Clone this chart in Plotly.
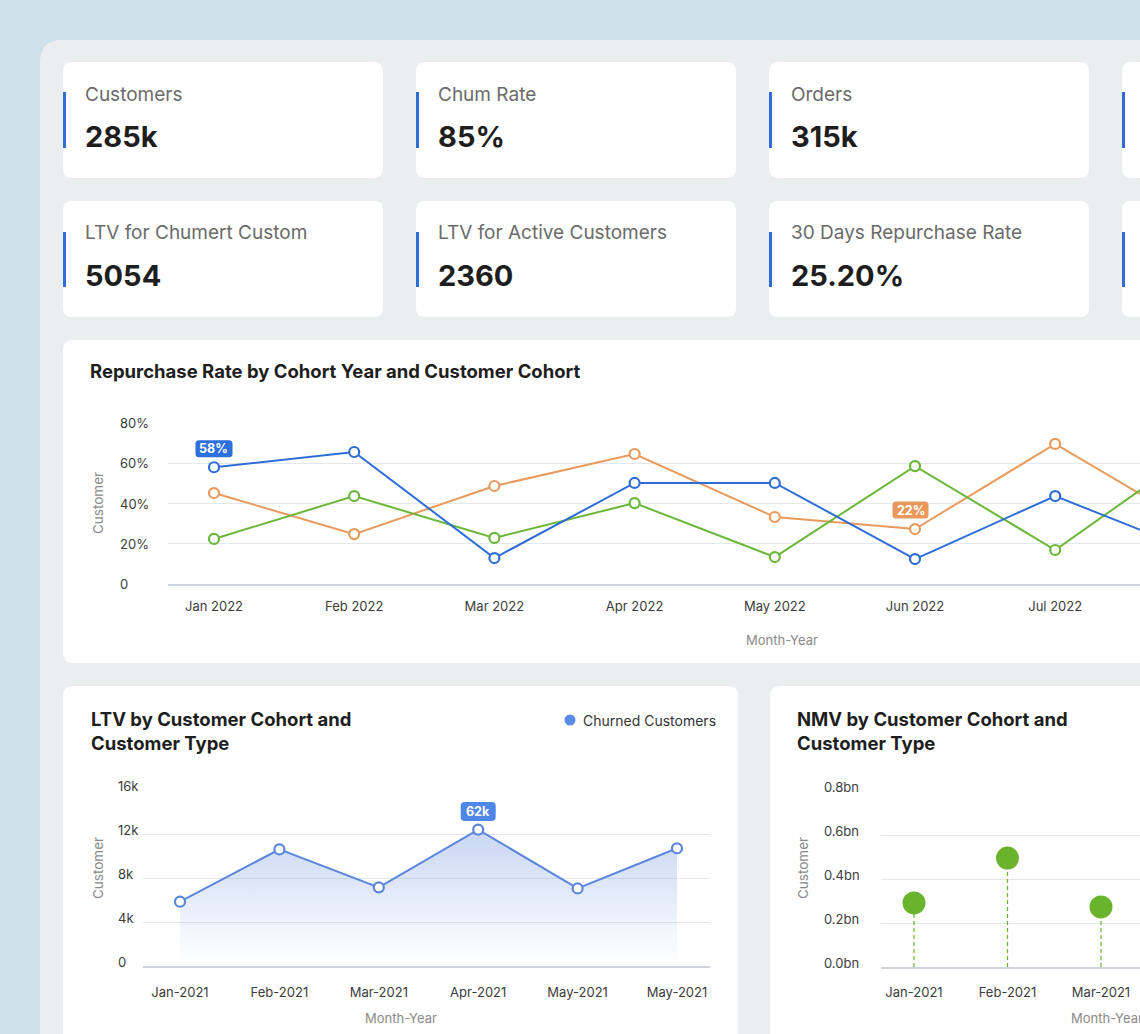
import plotly.graph_objects as go

W, H = 1140, 1034

# ---------------- data ----------------
kpi_labels_row1 = ["Customers", "Chum Rate", "Orders"]
kpi_values_row1 = ["285k", "85%", "315k"]
kpi_labels_row2 = ["LTV for Chumert Custom", "LTV for Active Customers", "30 Days Repurchase Rate"]
kpi_values_row2 = ["5054", "2360", "25.20%"]

rep_months = ["Jan 2022", "Feb 2022", "Mar 2022", "Apr 2022", "May 2022", "Jun 2022", "Jul 2022", "Aug 2022"]
rep_blue = [58, 65.6, 12.9, 50.2, 50.2, 12.4, 43.7, 16]
rep_orange = [45.2, 24.8, 48.7, 64.6, 33.3, 27.3, 69.6, 28.5]
rep_green = [22.4, 43.7, 22.9, 40.2, 13.4, 58.6, 16.9, 66]
rep_ticks = [0, 20, 40, 60, 80]
rep_ticktext = ["0", "20%", "40%", "60%", "80%"]

ltv_months = ["Jan-2021", "Feb-2021", "Mar-2021", "Apr-2021", "May-2021", "May-2021"]
ltv_values = [5850, 10600, 7150, 12400, 7050, 10700]
ltv_ticks = [0, 4000, 8000, 12000, 16000]
ltv_ticktext = ["0", "4k", "8k", "12k", "16k"]

nmv_months = ["Jan-2021", "Feb-2021", "Mar-2021"]
nmv_values = [0.291, 0.495, 0.273]
nmv_ticks = [0, 0.2, 0.4, 0.6, 0.8]
nmv_ticktext = ["0.0bn", "0.2bn", "0.4bn", "0.6bn", "0.8bn"]

# ---------------- helpers ----------------
def X(x):
    return x / W

def Y(y):
    return 1 - y / H

def rrect(x0, y0, x1, y1, r, color):
    p = (f"M {X(x0+r)},{Y(y0)} L {X(x1-r)},{Y(y0)} Q {X(x1)},{Y(y0)} {X(x1)},{Y(y0+r)} "
         f"L {X(x1)},{Y(y1-r)} Q {X(x1)},{Y(y1)} {X(x1-r)},{Y(y1)} "
         f"L {X(x0+r)},{Y(y1)} Q {X(x0)},{Y(y1)} {X(x0)},{Y(y1-r)} "
         f"L {X(x0)},{Y(y0+r)} Q {X(x0)},{Y(y0)} {X(x0+r)},{Y(y0)} Z")
    return dict(type="path", xref="paper", yref="paper", path=p,
                fillcolor=color, line=dict(width=0), layer="below")

def badge_shape(xr, yr, xa, ya, dx, dy, w, h, r, color):
    # pixel-sized rounded rectangle anchored at a data point
    x0, x1 = dx - w / 2, dx + w / 2
    y0, y1 = dy - h / 2, dy + h / 2
    p = (f"M {x0+r},{y0} L {x1-r},{y0} Q {x1},{y0} {x1},{y0+r} "
         f"L {x1},{y1-r} Q {x1},{y1} {x1-r},{y1} L {x0+r},{y1} Q {x0},{y1} {x0},{y1-r} "
         f"L {x0},{y0+r} Q {x0},{y0} {x0+r},{y0} Z")
    return dict(type="path", xref=xr, yref=yr, xsizemode="pixel", ysizemode="pixel",
                xanchor=xa, yanchor=ya, path=p, fillcolor=color, line=dict(width=0), layer="above")

FONT = "Inter, Open Sans, sans-serif"
BLUE = "#2f6dd6"
ORANGE = "#e99a5c"
GREEN = "#6cb63a"
LTV_BLUE = "#5b86db"
NMV_GREEN = "#6ab42d"
GRID = "#e4e7eb"
BASE = "#cfd4da"

shapes = []
annotations = []

# background panel and cards
shapes.append(rrect(40, 40, 1400, 1200, 22, "#eaeeee"))
card_x = [(63, 383), (416, 736), (769, 1089), (1122, 1400)]
for (x0, x1) in card_x:
    shapes.append(rrect(x0, 62, x1, 178, 9, "white"))
    shapes.append(rrect(x0, 201, x1, 317, 9, "white"))
    for (b0, b1) in [(92, 148), (232, 287)]:
        shapes.append(dict(type="rect", xref="paper", yref="paper", x0=X(x0), x1=X(x0 + 3),
                           y0=Y(b1), y1=Y(b0), fillcolor=BLUE, line=dict(width=0), layer="below"))
shapes.append(rrect(63, 340, 1400, 663, 10, "white"))
shapes.append(rrect(63, 686, 738, 1200, 10, "white"))
shapes.append(rrect(770, 686, 1400, 1200, 10, "white"))

def text(t, x, y, size, color, anchor="left", angle=0, bold=False):
    if bold:
        t = f"<b>{t}</b>"
    annotations.append(dict(text=t, x=X(x), y=Y(y), xref="paper", yref="paper", xanchor=anchor,
                            yanchor="middle", showarrow=False, textangle=angle,
                            font=dict(size=size, color=color, family=FONT)))

# KPI text
for i, (lab, val) in enumerate(zip(kpi_labels_row1, kpi_values_row1)):
    x0 = card_x[i][0] + 20
    text(lab, x0, 94, 19, "#6b6b6b")
    text(val, x0, 136, 29, "#1e1e1e", bold=True)
for i, (lab, val) in enumerate(zip(kpi_labels_row2, kpi_values_row2)):
    x0 = card_x[i][0] + 20
    text(lab, x0, 233, 19, "#6b6b6b")
    text(val, x0, 275, 29, "#1e1e1e", bold=True)

# titles
text("Repurchase Rate by Cohort Year and Customer Cohort", 88, 371, 18.5, "#1e1e1e", bold=True)
text("LTV by Customer Cohort and", 89, 719, 18.5, "#1e1e1e", bold=True)
text("Customer Type", 89, 743, 18.5, "#1e1e1e", bold=True)
text("NMV by Customer Cohort and", 795, 719, 18.5, "#1e1e1e", bold=True)
text("Customer Type", 795, 743, 18.5, "#1e1e1e", bold=True)

# axis titles
text("Customer", 98, 503, 13.5, "#8a8a8a", anchor="center", angle=-90)
text("Month-Year", 782, 640, 13, "#8a8a8a", anchor="center")
text("Customer", 98, 868, 13.5, "#8a8a8a", anchor="center", angle=-90)
text("Month-Year", 401, 1018, 13, "#8a8a8a", anchor="center")
text("Customer", 803, 868, 13.5, "#8a8a8a", anchor="center", angle=-90)
text("Month-Year", 1107, 1018, 13, "#8a8a8a", anchor="center")

# left-aligned y tick labels positioned on each axis scale
tick_font = dict(size=13, color="#3c3c3c", family=FONT)
for v, t in zip(rep_ticks, rep_ticktext):
    annotations.append(dict(text=t, x=X(118), y=v, xref="paper", yref="y", xanchor="left",
                            yanchor="middle", showarrow=False, font=tick_font))
for v, t in zip(ltv_ticks, ltv_ticktext):
    annotations.append(dict(text=t, x=X(116), y=v, xref="paper", yref="y2", xanchor="left",
                            yanchor="middle", yshift=4, showarrow=False, font=tick_font))
for v, t in zip(nmv_ticks, nmv_ticktext):
    annotations.append(dict(text=t, x=X(822), y=v, xref="paper", yref="y3", xanchor="left",
                            yanchor="middle", yshift=4, showarrow=False, font=tick_font))

# legend for LTV
shapes.append(dict(type="circle", xref="paper", yref="paper", x0=X(564.5), x1=X(575.5),
                   y0=Y(725.5), y1=Y(714.5), fillcolor="#5b8be6", line=dict(width=0)))
text("Churned Customers", 581, 720, 14, "#333333")

fig = go.Figure()

# ---------------- repurchase line chart ----------------
for vals, col in [(rep_orange, ORANGE), (rep_green, GREEN), (rep_blue, BLUE)]:
    fig.add_trace(go.Scatter(x=rep_months, y=vals, mode="lines+markers", xaxis="x", yaxis="y",
                             line=dict(color=col, width=2),
                             marker=dict(size=10, color="white", line=dict(color=col, width=2.2)),
                             cliponaxis=False, showlegend=False, hoverinfo="x+y"))

# badges (rounded background + text)
shapes.append(badge_shape("x", "y", 0, rep_blue[0], 0, 18.5, 37, 17, 3.5, "#2d6fdb"))
annotations.append(dict(text="<b>58%</b>", x=rep_months[0], y=rep_blue[0], xref="x", yref="y",
                        yshift=18.5, showarrow=False,
                        font=dict(size=12.5, color="white", family=FONT)))
shapes.append(badge_shape("x", "y", 5, rep_orange[5], -4.5, 19, 36, 17, 3.5, "#e8985b"))
annotations.append(dict(text="<b>22%</b>", x=rep_months[5], y=rep_orange[5], xref="x", yref="y",
                        yshift=19, xshift=-4.5, showarrow=False,
                        font=dict(size=12.5, color="white", family=FONT)))

# ---------------- LTV area chart ----------------
ltv_x = list(range(len(ltv_values)))
fig.add_trace(go.Scatter(x=ltv_x, y=ltv_values, mode="lines+markers", xaxis="x2", yaxis="y2",
                         fill="tozeroy",
                         fillgradient=dict(type="vertical",
                                           colorscale=[[0, "rgba(91,134,219,0.0)"],
                                                       [0.2, "rgba(91,134,219,0.06)"],
                                                       [1, "rgba(91,134,219,0.33)"]]),
                         line=dict(color=LTV_BLUE, width=2),
                         marker=dict(size=10, color="white", line=dict(color=LTV_BLUE, width=2.2)),
                         cliponaxis=False, showlegend=False))
shapes.append(badge_shape("x2", "y2", ltv_x[3], ltv_values[3], 0, 18, 35, 19, 4, "#4f87e8"))
annotations.append(dict(text="<b>62k</b>", x=ltv_x[3], y=ltv_values[3], xref="x2", yref="y2",
                        yshift=18, showarrow=False,
                        font=dict(size=12.5, color="white", family=FONT)))

# ---------------- NMV lollipop ----------------
nmv_x = list(range(len(nmv_values)))
stem_x, stem_y = [], []
for xi, v in zip(nmv_x, nmv_values):
    stem_x += [xi, xi, None]
    stem_y += [0, v, None]
fig.add_trace(go.Scatter(x=stem_x, y=stem_y, mode="lines", xaxis="x3", yaxis="y3",
                         line=dict(color=NMV_GREEN, width=1.2, dash="4px,3px"),
                         showlegend=False, hoverinfo="skip"))
fig.add_trace(go.Scatter(x=nmv_x, y=nmv_values, mode="markers", xaxis="x3", yaxis="y3",
                         marker=dict(size=23, color=NMV_GREEN), cliponaxis=False, showlegend=False))

xtickfont = dict(size=13, color="#3c3c3c", family=FONT)

fig.update_layout(
    width=W, height=H,
    margin=dict(l=0, r=0, t=0, b=0, pad=0, autoexpand=False),
    paper_bgcolor="#cfe1ea",
    plot_bgcolor="rgba(0,0,0,0)",
    font=dict(family=FONT),
    shapes=shapes,
    annotations=annotations,
    showlegend=False,
    xaxis=dict(domain=[X(168), 1], anchor="y", type="category", automargin=False,
               range=[(168 - 214) / 140.2, (1140 - 214) / 140.2],
               showgrid=False, zeroline=False, showline=True, linecolor=BASE, linewidth=2,
               tickfont=xtickfont, ticks="", ticklabelstandoff=9, fixedrange=True),
    yaxis=dict(domain=[Y(584), Y(423)], anchor="x", range=[0, 80], automargin=False,
               tickvals=rep_ticks, showticklabels=False,
               showgrid=True, gridcolor=GRID, gridwidth=1, zeroline=False, showline=False, ticks=""),
    xaxis2=dict(domain=[X(143), X(710)], anchor="y2", automargin=False,
                range=[(143 - 180) / 99.4, (710 - 180) / 99.4],
                tickvals=ltv_x, ticktext=ltv_months,
                showgrid=False, zeroline=False, showline=True, linecolor=BASE, linewidth=2,
                tickfont=xtickfont, ticks="", ticklabelstandoff=13),
    yaxis2=dict(domain=[Y(966), Y(790)], anchor="x2", range=[0, 16000], automargin=False,
                tickvals=ltv_ticks, showticklabels=False,
                showgrid=True, gridcolor=GRID, zeroline=False, showline=False, ticks=""),
    xaxis3=dict(domain=[X(881), 1], anchor="y3", automargin=False,
                range=[(881 - 914) / 93.5, (1140 - 914) / 93.5],
                tickvals=nmv_x, ticktext=nmv_months,
                showgrid=False, zeroline=False, showline=True, linecolor=BASE, linewidth=2,
                tickfont=xtickfont, ticks="", ticklabelstandoff=12),
    yaxis3=dict(domain=[Y(967), Y(791)], anchor="x3", range=[0, 0.8], automargin=False,
                tickvals=nmv_ticks, showticklabels=False,
                showgrid=True, gridcolor=GRID, zeroline=False, showline=False, ticks=""),
)

fig.write_html("out.html")
